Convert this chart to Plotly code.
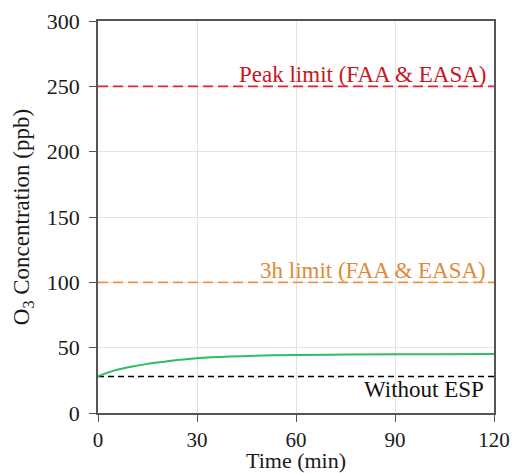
import plotly.graph_objects as go

# Ozone concentration with ESP over time
time_min = [0, 2.5, 5, 7.5, 10, 15, 20, 25, 30, 40, 50, 60, 75, 90, 105, 120]
o3_with_esp = [28.0, 30.5, 32.6, 34.1, 35.4, 37.6, 39.3, 40.8, 41.9, 43.2, 44.0, 44.4, 44.7, 44.9, 45.0, 45.1]

# Reference levels (ppb)
baseline_no_esp = 28
peak_limit = 250
three_h_limit = 100
x_span = [0, 120]

x_ticks = [0, 30, 60, 90, 120]
y_ticks = [0, 50, 100, 150, 200, 250, 300]

FONT = "Liberation Serif"
RED_LINE = "#E8212B"
RED_TEXT = "#C8161E"
ORANGE_LINE = "#F09446"
ORANGE_TEXT = "#E0893A"
GREEN = "#2DBD62"
TEXT = "#1a1a1a"

WIDTH, HEIGHT = 512, 473
MARGIN = dict(l=98, r=18, t=21, b=60)
plot_h = HEIGHT - MARGIN["t"] - MARGIN["b"]

fig = go.Figure()

fig.add_trace(go.Scatter(x=x_span, y=[peak_limit] * 2, mode="lines",
                         line=dict(color=RED_LINE, width=1.8, dash="10px,5px"),
                         showlegend=False, hoverinfo="skip"))
fig.add_trace(go.Scatter(x=x_span, y=[three_h_limit] * 2, mode="lines",
                         line=dict(color=ORANGE_LINE, width=1.8, dash="10px,5px"),
                         showlegend=False, hoverinfo="skip"))
fig.add_trace(go.Scatter(x=x_span, y=[baseline_no_esp] * 2, mode="lines",
                         line=dict(color="black", width=1.5, dash="6px,4px"),
                         showlegend=False, hoverinfo="skip"))
fig.add_trace(go.Scatter(x=time_min, y=o3_with_esp, mode="lines",
                         line=dict(color=GREEN, width=2, shape="spline"),
                         showlegend=False))

fig.add_annotation(x=118.3, y=peak_limit, xref="x", yref="y",
                   text="Peak limit (FAA &amp; EASA)", showarrow=False,
                   xanchor="right", yanchor="bottom", yshift=-3,
                   font=dict(family=FONT, size=23, color=RED_TEXT))
fig.add_annotation(x=118.3, y=three_h_limit, xref="x", yref="y",
                   text="3h limit (FAA &amp; EASA)", showarrow=False,
                   xanchor="right", yanchor="bottom", yshift=-3,
                   font=dict(family=FONT, size=23, color=ORANGE_TEXT))
fig.add_annotation(x=117.5, y=baseline_no_esp, xref="x", yref="y",
                   text="Without ESP", showarrow=False,
                   xanchor="right", yanchor="top", yshift=1,
                   font=dict(family=FONT, size=23, color="#111111"))

# x-axis title placed at the bottom edge of the canvas
fig.add_annotation(x=0.5, y=-MARGIN["b"] / plot_h, xref="x domain", yref="paper",
                   text="Time (min)", showarrow=False,
                   xanchor="center", yanchor="bottom", yshift=-2,
                   font=dict(family=FONT, size=22, color=TEXT))

axis_common = dict(
    showline=True, linecolor="#555555", linewidth=1.5, mirror=True,
    showgrid=True, gridcolor="#E3E3E3", gridwidth=1,
    ticks="outside", ticklen=7, tickwidth=1.3, tickcolor="#555555",
    zeroline=False, automargin=False,
)

fig.update_xaxes(range=[0, 120], tickvals=x_ticks,
                 tickfont=dict(family=FONT, size=21, color=TEXT),
                 **axis_common)
fig.update_yaxes(range=[0, 300], tickvals=y_ticks, ticklabelstandoff=5,
                 tickfont=dict(family=FONT, size=22, color=TEXT),
                 title=dict(text="O<sub>3</sub> Concentration (ppb)", standoff=11,
                            font=dict(family=FONT, size=23, color=TEXT)),
                 **axis_common)

fig.update_layout(
    width=WIDTH, height=HEIGHT,
    margin=dict(**MARGIN, autoexpand=False),
    plot_bgcolor="white", paper_bgcolor="white",
    showlegend=False,
    font=dict(family=FONT),
)

fig.write_html("out.html")
